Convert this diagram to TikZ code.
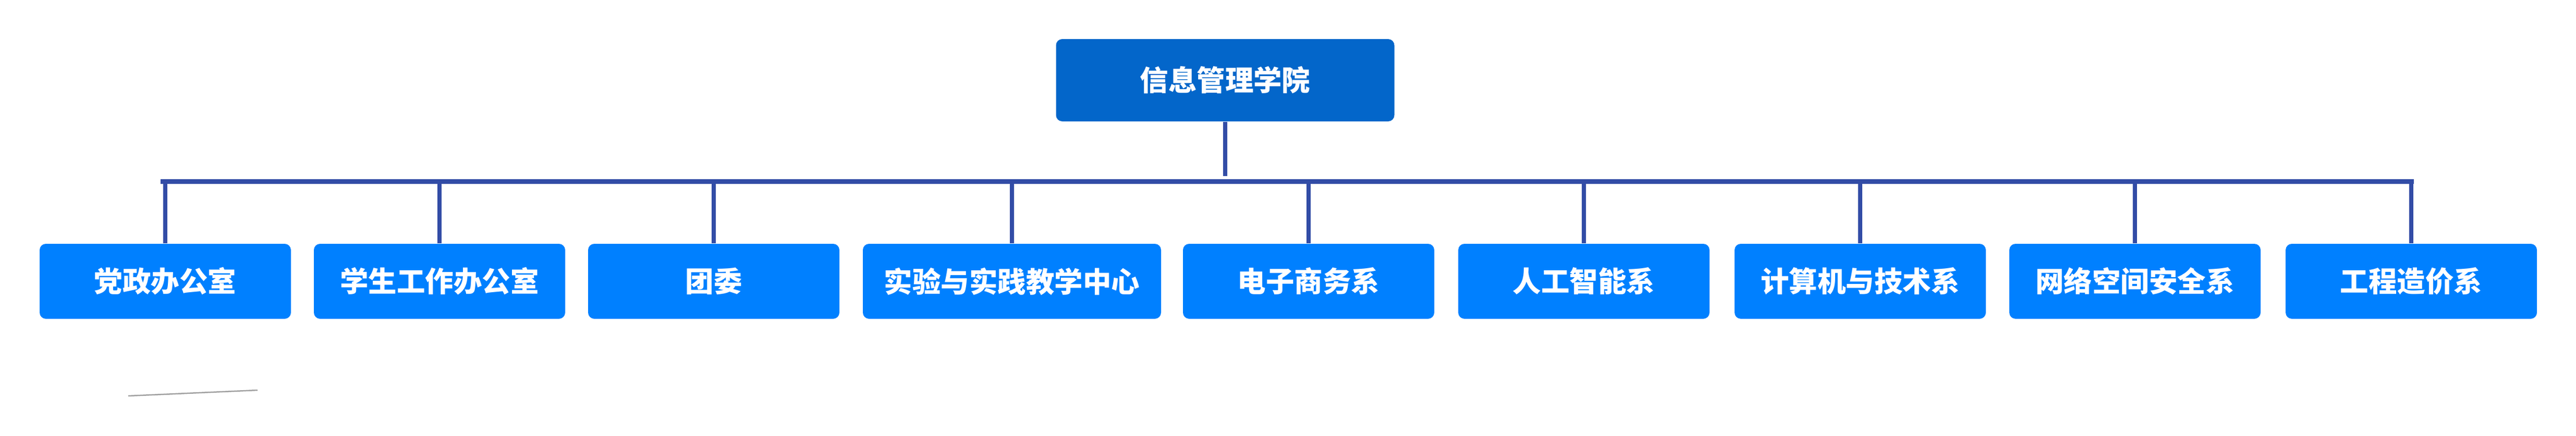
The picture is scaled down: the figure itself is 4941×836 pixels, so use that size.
\documentclass[tikz,border=0pt]{standalone}
\usepackage{fontspec}
\newfontfamily\cjk{Noto Sans CJK SC}
\usepackage{tikz}
\definecolor{rootblue}{RGB}{3,102,202}
\definecolor{deptblue}{RGB}{0,128,255}
\definecolor{linkblue}{RGB}{50,76,166}
\definecolor{strayline}{RGB}{160,160,160}
\tikzset{
  root/.style={fill=rootblue, rounded corners=1.2mm, inner sep=0pt,
    minimum width=64.9mm, minimum height=15.8mm, text=white,
    font=\cjk\bfseries\fontsize{15.5}{18}\selectfont},
  dept/.style={root, fill=deptblue, minimum width=48.2mm, minimum height=14.4mm},
  bar/.style={draw=linkblue, line width=0.9mm},
  branch/.style={draw=linkblue, line width=0.75mm},
}

\begin{document}
\begin{tikzpicture}[x=0.1mm, y=-0.1mm]
    \useasboundingbox (0,0) rectangle (4941,836);
    % Racine
    \node[root] (xy) at (2350,154) {信息管理学院};
    % Offices
    \node[dept] (dz) at (317,540) {党政办公室};
    \node[dept] (xg) at (843,540) {学生工作办公室};
    \node[dept] (tw) at (1369,540) {团委};
    \node[dept, minimum width=57.2mm] (sy) at (1941,540) {实验与实践教学中心};
    % Departments
    \node[dept] (ds) at (2510,540) {电子商务系};
    \node[dept] (rg) at (3038,540) {人工智能系};
    \node[dept] (js) at (3568,540) {计算机与技术系};
    \node[dept] (wl) at (4095,540) {网络空间安全系};
    \node[dept] (gc) at (4625,540) {工程造价系};
    % Bar
    \coordinate (barL) at (308,348.5);
    \coordinate (barR) at (4630,348.5);
    \coordinate (xyEnd) at (2350,338);
    \draw[branch] (xy.south) -- (xyEnd);
    \draw[bar] (barL) -- (barR);
    \draw[branch] (dz.north) -- (dz.north |- barL);
    \draw[branch] (xg.north) -- (xg.north |- barL);
    \draw[branch] (tw.north) -- (tw.north |- barL);
    \draw[branch] (sy.north) -- (sy.north |- barL);
    \draw[branch] (ds.north) -- (ds.north |- barL);
    \draw[branch] (rg.north) -- (rg.north |- barL);
    \draw[branch] (js.north) -- (js.north |- barL);
    \draw[branch] (wl.north) -- (wl.north |- barL);
    \draw[branch] (gc.north) -- (gc.north |- barL);
    % Stray stroke
    \coordinate (s1) at (246,760);
    \coordinate (s2) at (494,749);
    \draw[strayline, line width=0.25mm] (s1) -- (s2);
\end{tikzpicture}
\end{document}
